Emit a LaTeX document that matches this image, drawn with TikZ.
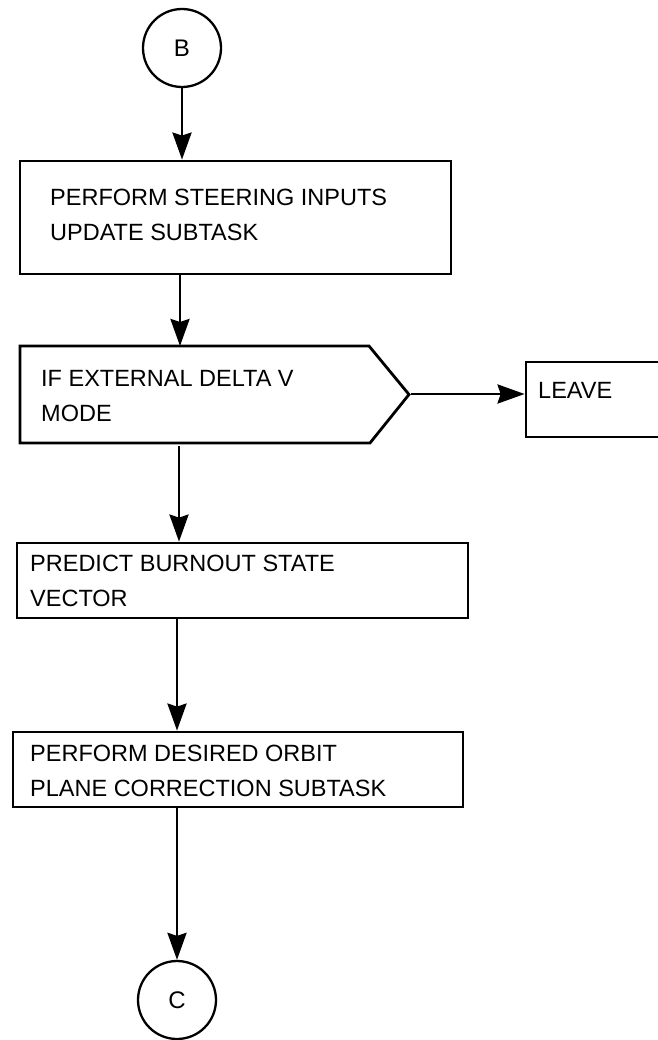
\documentclass[tikz,border=0pt]{standalone}
\usepackage{fontspec}
\setmainfont{Liberation Sans}
\usetikzlibrary{arrows.meta}
\begin{document}
\begin{tikzpicture}[x=1pt,y=-1pt,
  lw/.style={line width=2.8pt},
  box/.style={draw, lw, inner sep=0pt},
  conn/.style={draw, line width=2.3pt, inner sep=0pt, circle, minimum size=78pt, font=\fontsize{24pt}{28pt}\selectfont},
  txt/.style={inner sep=0pt, align=left, anchor=north west, font=\fontsize{23.5pt}{35pt}\selectfont},
  arr/.style={lw, -{Stealth[length=27pt,width=19pt,inset=3pt]}}]
\useasboundingbox (0,0) rectangle (657,1040);
% connectors (circles)
\node[conn] (B) at (182,48) {B};
\node[conn] (C) at (177,1000) {C};
% boxes
\node[box, minimum width=431pt, minimum height=113pt] (box1) at (235.5,217.5) {};
\node[txt] (t1) at (50,189) {PERFORM STEERING INPUTS\\UPDATE SUBTASK};
% decision pentagon
\draw[lw, line join=miter] (20,346) -- (369,346) -- (409,394.5) -- (370,443) -- (20,443) -- cycle;
\coordinate (decN) at (180,346);
\coordinate (decS) at (179,446);
\coordinate (dectip) at (411,394);
\node[txt] (t2) at (41,370) {IF EXTERNAL DELTA V\\MODE};
\node[box, minimum width=154pt, minimum height=75pt] (leave) at (603,399.5) {};
\node[txt] (t3) at (538,382) {LEAVE};
\node[box, minimum width=451pt, minimum height=75pt] (box3) at (242.5,580.5) {};
\node[txt] (t4) at (30,555) {PREDICT BURNOUT STATE\\VECTOR};
\node[box, minimum width=450pt, minimum height=75pt] (box4) at (238,769.5) {};
\node[txt] (t5) at (30,745) {PERFORM DESIRED ORBIT\\PLANE CORRECTION SUBTASK};
% arrows
\draw[arr] (B) -- (B |- box1.north);
\draw[arr] (box1.south -| decN) -- (decN);
\draw[arr] (dectip) -- (leave.west |- dectip);
\draw[arr] (decS) -- (decS |- box3.north);
\draw[arr] (box3.south -| C) -- (box4.north -| C);
\draw[arr] (box4.south -| C) -- (C);
\end{tikzpicture}
\end{document}
